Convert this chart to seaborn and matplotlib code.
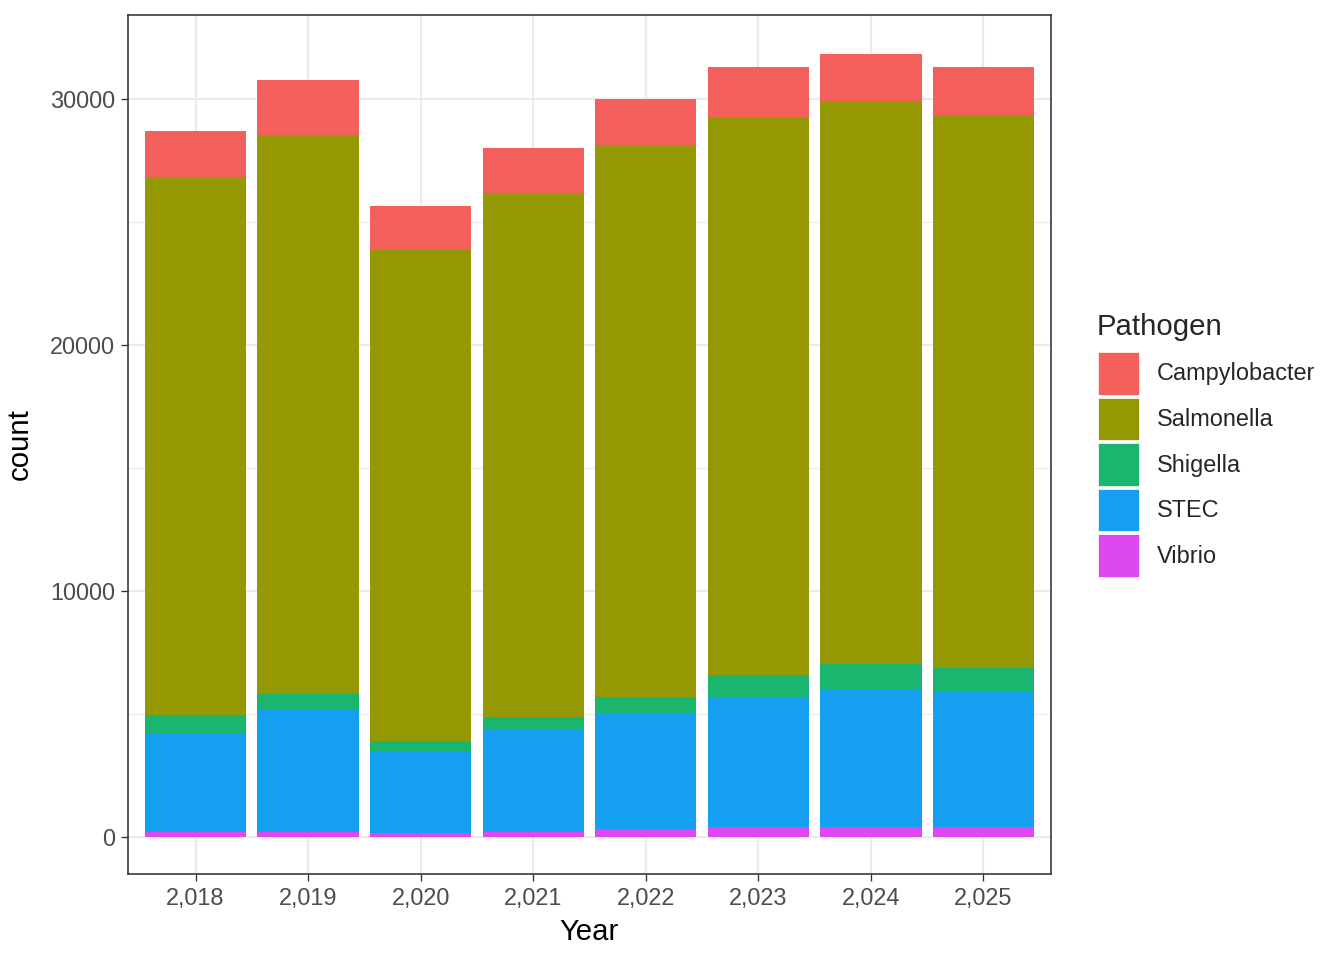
import numpy as np
import pandas as pd
import seaborn as sns
import matplotlib.pyplot as plt
from matplotlib.patches import Patch
from matplotlib.ticker import FixedLocator

# ---- data ----
years = [2018, 2019, 2020, 2021, 2022, 2023, 2024, 2025]
year_labels = ["2,018", "2,019", "2,020", "2,021", "2,022", "2,023", "2,024", "2,025"]
pathogens = ["Campylobacter", "Salmonella", "Shigella", "STEC", "Vibrio"]
campylobacter = [1870, 2235, 1775, 1825, 1870, 2060, 1910, 1950]
salmonella = [21870, 22690, 19955, 21286, 22423, 22640, 22860, 22450]
shigella = [730, 650, 435, 514, 677, 920, 1055, 980]
stec = [4030, 4970, 3305, 4160, 4685, 5280, 5580, 5495]
vibrio = [200, 200, 160, 200, 325, 380, 405, 405]
colors = ["#F4605C", "#939803", "#1AB56E", "#159FF0", "#DE48EF"]

values = {"Campylobacter": campylobacter, "Salmonella": salmonella,
          "Shigella": shigella, "STEC": stec, "Vibrio": vibrio}
color_map = dict(zip(pathogens, colors))

sns.set_theme(style="white")
plt.rcParams['font.family'] = ['Liberation Sans', 'DejaVu Sans']

fig, ax = plt.subplots(figsize=(7, 5), dpi=192)
fig.subplots_adjust(left=128/1344, right=1051/1344, top=1-15/960, bottom=1-874/960)

# stacking: last pathogen at the bottom, first at the top
stack_order = pathogens[::-1]
cum = np.cumsum(np.array([values[p] for p in stack_order], dtype=float), axis=0)
for i in reversed(range(len(stack_order))):
    df = pd.DataFrame({"Year": year_labels, "count": cum[i]})
    sns.barplot(data=df, x="Year", y="count", color=color_map[stack_order[i]],
                saturation=1, width=0.9, linewidth=0, errorbar=None, ax=ax, zorder=3)

ax.set_xlim(-0.6, 7.6)
ax.set_ylim(-1510, 33400)
ax.yaxis.set_major_locator(FixedLocator([0, 10000, 20000, 30000]))
ax.yaxis.set_minor_locator(FixedLocator([5000, 15000, 25000]))
ax.set_axisbelow(True)
ax.grid(True, which='major', axis='both', color='#EBEBEB', linewidth=0.8, zorder=0)
ax.grid(True, which='minor', axis='y', color='#EBEBEB', linewidth=0.4, zorder=0)

for s in ax.spines.values():
    s.set_color('#333333')
    s.set_linewidth(0.6)

ax.tick_params(axis='both', which='major', direction='out', length=2.75, width=0.5,
               color='#333333', labelsize=8.8, labelcolor='#4D4D4D', pad=2.2,
               bottom=True, left=True)
ax.tick_params(axis='y', which='minor', length=0)

ax.set_xlabel("Year", fontsize=11, color='black', labelpad=3)
ax.set_ylabel("count", fontsize=11, color='black', labelpad=6)

handles = [Patch(facecolor=color_map[p], edgecolor='white', linewidth=1.0) for p in pathogens]
leg = fig.legend(handles, pathogens, title="Pathogen", loc='upper left',
                 bbox_to_anchor=(1097/1344, 1-313/960), frameon=False,
                 fontsize=8.8, title_fontsize=11, handlelength=1.85, handleheight=2.55,
                 labelspacing=0.04, handletextpad=0.7, borderpad=0, borderaxespad=0,
                 alignment='left')
leg._legend_box.sep = 3.75

fig.savefig("out.png", dpi=192)
